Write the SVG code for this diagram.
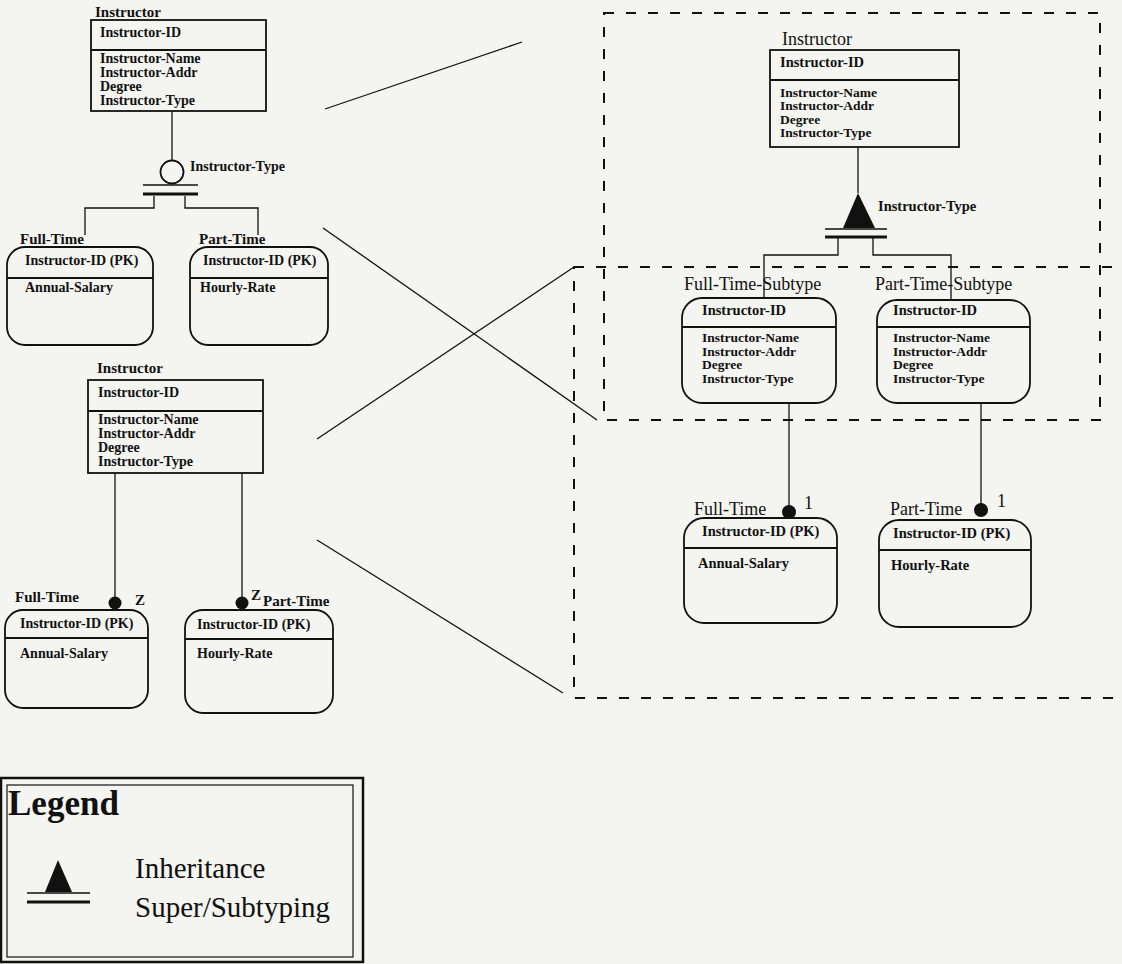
<svg xmlns="http://www.w3.org/2000/svg" width="1122" height="964" viewBox="0 0 1122 964">
<style>
.bg{fill:#f4f4f0}
.box{fill:none;stroke:#111;stroke-width:1.8}
.dv{stroke:#111;stroke-width:1.8}
.ln{stroke:#111;stroke-width:1.3;fill:none}
.bar{stroke:#111;stroke-width:1.6}
.barb{stroke:#111;stroke-width:3}
.dash{fill:none;stroke:#111;stroke-width:2;stroke-dasharray:10 12}
.dot{fill:#111}
.t{font-family:"Liberation Serif","Times New Roman",serif;font-weight:bold;font-size:14px;fill:#111}
.tr{font-family:"Liberation Serif","Times New Roman",serif;font-weight:bold;font-size:14.5px;fill:#111}
.ta{font-family:"Liberation Serif","Times New Roman",serif;font-weight:bold;font-size:13.5px;fill:#111}
.lb{font-family:"Liberation Serif","Times New Roman",serif;font-weight:bold;font-size:15px;fill:#111}
.lr{font-family:"Liberation Serif","Times New Roman",serif;font-size:18px;fill:#111}
</style>
<rect class="bg" x="0" y="0" width="1122" height="964"/>

<g id="frames">
<rect class="dash" x="604" y="13" width="496" height="407"/>
<rect class="dash" x="574" y="267" width="560" height="431"/>
</g>

<g id="connectors">
<line class="ln" x1="172" y1="111" x2="172" y2="161"/>
<polyline class="ln" points="154,196 154,208 85,208 85,235"/>
<polyline class="ln" points="185,196 185,208 258,208 258,235"/>
<line class="ln" x1="115" y1="473" x2="115" y2="598"/>
<line class="ln" x1="242" y1="473" x2="242" y2="598"/>
<line class="ln" x1="858" y1="147" x2="858" y2="193"/>
<polyline class="ln" points="838,238 838,255 764,255 764,298"/>
<polyline class="ln" points="873,238 873,255 951,255 951,300"/>
<line class="ln" x1="789" y1="403" x2="789" y2="506"/>
<line class="ln" x1="981" y1="403" x2="981" y2="504"/>
<line class="ln" x1="325" y1="109" x2="522" y2="42"/>
<line class="ln" x1="323" y1="228" x2="597" y2="420"/>
<line class="ln" x1="317" y1="439" x2="574" y2="267"/>
<line class="ln" x1="317" y1="540" x2="563" y2="693"/>
</g>

<g id="instructor-top-left">
<text class="lb" x="95" y="17">Instructor</text>
<rect class="box" x="91" y="20" width="175" height="91"/>
<line class="dv" x1="91" y1="50" x2="266" y2="50"/>
<text class="t" x="100" y="37">Instructor-ID</text>
<text class="t" x="100" y="63">Instructor-Name</text>
<text class="t" x="100" y="77">Instructor-Addr</text>
<text class="t" x="100" y="91">Degree</text>
<text class="t" x="100" y="105">Instructor-Type</text>
</g>

<g id="category-circle">
<circle cx="172" cy="172" r="11.5" fill="none" stroke="#111" stroke-width="1.8"/>
<line class="bar" x1="143" y1="185" x2="198" y2="185"/>
<line class="barb" x1="143" y1="194" x2="198" y2="194"/>
<text class="t" x="190" y="171">Instructor-Type</text>
</g>

<g id="full-time-top-left">
<text class="lb" x="20" y="244">Full-Time</text>
<rect class="box" x="7" y="247" width="146" height="98" rx="18" ry="18"/>
<line class="dv" x1="7" y1="278" x2="153" y2="278"/>
<text class="t" x="25" y="265">Instructor-ID (PK)</text>
<text class="t" x="25" y="292">Annual-Salary</text>
</g>

<g id="part-time-top-left">
<text class="lb" x="199" y="244">Part-Time</text>
<rect class="box" x="190" y="247" width="138" height="98" rx="18" ry="18"/>
<line class="dv" x1="190" y1="278" x2="328" y2="278"/>
<text class="t" x="203" y="265">Instructor-ID (PK)</text>
<text class="t" x="200" y="292">Hourly-Rate</text>
</g>

<g id="instructor-mid-left">
<text class="lb" x="97" y="373">Instructor</text>
<rect class="box" x="88" y="380" width="175" height="93"/>
<line class="dv" x1="88" y1="411" x2="263" y2="411"/>
<text class="t" x="98" y="397">Instructor-ID</text>
<text class="t" x="98" y="424">Instructor-Name</text>
<text class="t" x="98" y="438">Instructor-Addr</text>
<text class="t" x="98" y="452">Degree</text>
<text class="t" x="98" y="466">Instructor-Type</text>
</g>

<g id="full-time-bottom-left">
<text class="lb" x="15" y="602">Full-Time</text>
<circle class="dot" cx="115" cy="603" r="6.5"/>
<text class="lb" x="135" y="605" font-size="16">Z</text>
<rect class="box" x="5" y="610" width="143" height="98" rx="18" ry="18"/>
<line class="dv" x1="5" y1="638" x2="148" y2="638"/>
<text class="t" x="20" y="628">Instructor-ID (PK)</text>
<text class="t" x="20" y="658">Annual-Salary</text>
</g>

<g id="part-time-bottom-left">
<circle class="dot" cx="242" cy="603" r="6.5"/>
<text class="lb" x="251" y="600" font-size="16">Z</text>
<text class="lb" x="263" y="606">Part-Time</text>
<rect class="box" x="185" y="610" width="148" height="103" rx="18" ry="18"/>
<line class="dv" x1="185" y1="639" x2="333" y2="639"/>
<text class="t" x="197" y="629">Instructor-ID (PK)</text>
<text class="t" x="197" y="658">Hourly-Rate</text>
</g>

<g id="instructor-right">
<text class="lr" x="782" y="45">Instructor</text>
<rect class="box" x="770" y="50" width="189" height="97"/>
<line class="dv" x1="770" y1="80" x2="959" y2="80"/>
<text class="tr" x="780" y="67">Instructor-ID</text>
<text class="ta" x="780" y="96.5">Instructor-Name</text>
<text class="ta" x="780" y="110">Instructor-Addr</text>
<text class="ta" x="780" y="123.5">Degree</text>
<text class="ta" x="780" y="137">Instructor-Type</text>
</g>

<g id="inheritance-triangle">
<polygon points="858,193 843,228 875,228" fill="#111"/>
<line class="bar" x1="825" y1="229" x2="887" y2="229"/>
<line class="barb" x1="825" y1="237" x2="887" y2="237"/>
<text class="tr" x="878" y="211">Instructor-Type</text>
</g>

<g id="full-time-subtype">
<text class="lr" x="684" y="290">Full-Time-Subtype</text>
<rect class="box" x="682" y="298" width="154" height="105" rx="20" ry="20"/>
<line class="dv" x1="682" y1="327" x2="836" y2="327"/>
<text class="tr" x="702" y="315">Instructor-ID</text>
<text class="ta" x="702" y="342">Instructor-Name</text>
<text class="ta" x="702" y="355.5">Instructor-Addr</text>
<text class="ta" x="702" y="369">Degree</text>
<text class="ta" x="702" y="382.5">Instructor-Type</text>
</g>

<g id="part-time-subtype">
<text class="lr" x="875" y="290">Part-Time-Subtype</text>
<rect class="box" x="877" y="300" width="153" height="103" rx="20" ry="20"/>
<line class="dv" x1="877" y1="327" x2="1030" y2="327"/>
<text class="tr" x="893" y="315">Instructor-ID</text>
<text class="ta" x="893" y="342">Instructor-Name</text>
<text class="ta" x="893" y="355.5">Instructor-Addr</text>
<text class="ta" x="893" y="369">Degree</text>
<text class="ta" x="893" y="382.5">Instructor-Type</text>
</g>

<g id="full-time-right">
<text class="lr" x="694" y="515">Full-Time</text>
<circle class="dot" cx="789" cy="512" r="7"/>
<text class="lr" x="804" y="509">1</text>
<rect class="box" x="684" y="518" width="153" height="105" rx="20" ry="20"/>
<line class="dv" x1="684" y1="548" x2="837" y2="548"/>
<text class="tr" x="702" y="536">Instructor-ID (PK)</text>
<text class="tr" x="698" y="568">Annual-Salary</text>
</g>

<g id="part-time-right">
<text class="lr" x="890" y="515">Part-Time</text>
<circle class="dot" cx="981" cy="510" r="7"/>
<text class="lr" x="997" y="507">1</text>
<rect class="box" x="879" y="520" width="152" height="107" rx="20" ry="20"/>
<line class="dv" x1="879" y1="550" x2="1031" y2="550"/>
<text class="tr" x="893" y="538">Instructor-ID (PK)</text>
<text class="tr" x="891" y="570">Hourly-Rate</text>
</g>

<g id="legend">
<rect x="1" y="778" width="362" height="184" fill="none" stroke="#111" stroke-width="2.5"/>
<rect x="7" y="785" width="346" height="172" fill="none" stroke="#111" stroke-width="1.2"/>
<text x="8" y="815" font-family="Liberation Serif, Times New Roman, serif" font-weight="bold" font-size="35" fill="#111">Legend</text>
<polygon points="58,860 45,892 72,892" fill="#111"/>
<line class="bar" x1="27" y1="893" x2="90" y2="893"/>
<line class="barb" x1="27" y1="902" x2="90" y2="902"/>
<text x="135" y="878" font-family="Liberation Serif, Times New Roman, serif" font-size="29" fill="#111">Inheritance</text>
<text x="135" y="917" font-family="Liberation Serif, Times New Roman, serif" font-size="29" fill="#111">Super/Subtyping</text>
</g>
</svg>
